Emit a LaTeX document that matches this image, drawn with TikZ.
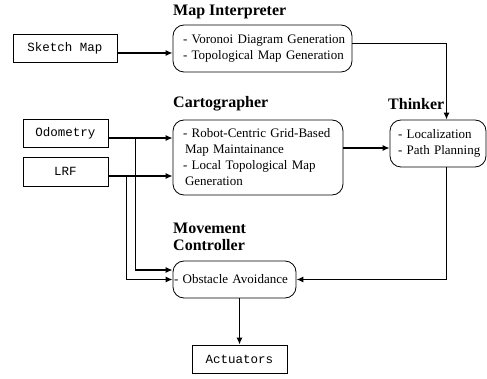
\documentclass[tikz,border=0pt]{standalone}
\usepackage{fontspec}
\setmainfont{Liberation Serif}
\setmonofont{Liberation Mono}
\usetikzlibrary{arrows.meta,calc}
\hyphenpenalty=10000
\exhyphenpenalty=10000
\begin{document}
\begin{tikzpicture}[x=1pt,y=-1pt,
  sqbox/.style={draw,line width=0.8pt,rectangle,inner sep=0pt,font=\fontsize{12.5}{15}\selectfont\ttfamily},
  rbox/.style={draw,line width=0.8pt,rectangle,rounded corners=11pt,inner ysep=0pt,inner xsep=4pt,align=left,font=\fontsize{13}{15.5}\selectfont},
  title/.style={anchor=west,inner sep=0pt,align=left,font=\fontsize{16}{17}\selectfont\bfseries},
  arr/.style={line width=1.3pt,-{Latex[length=7pt,width=6pt]}}]
\useasboundingbox (0,0) rectangle (487,379);
% input boxes
\node[sqbox,minimum width=104,minimum height=28] (sketch) at (65,48) {Sketch Map};
\node[sqbox,minimum width=85,minimum height=28] (odo) at (65.5,133) {Odometry};
\node[sqbox,minimum width=85,minimum height=29] (lrf) at (65.5,171.5) {LRF};
\node[sqbox,minimum width=95,minimum height=28] (act) at (239.5,359) {Actuators};
% module boxes
\node[rbox,minimum width=179,minimum height=47,text width=171] (mi) at (262.5,48.5)
  {\hspace*{6pt}- Voronoi Diagram Generation\\\hspace*{6pt}- Topological Map Generation};
\node[rbox,minimum width=170,minimum height=75,text width=162,font=\fontsize{13}{16}\selectfont] (cart) at (258,157.5)
  {\hspace*{6pt}- Robot-Centric Grid-Based\\\hspace*{8pt}Map Maintainance\\\hspace*{6pt}- Local Topological Map\\\hspace*{8pt}Generation};
\node[rbox,minimum width=96,minimum height=47,text width=88] (think) at (438,143.5)
  {\hspace*{4pt}- Localization\\\hspace*{4pt}- Path Planning};
\node[rbox,minimum width=123,minimum height=37,text width=121,inner xsep=1pt] (obst) at (234.5,279.5)
  {- Obstacle Avoidance};
% titles
\node[title] (tmi) at (173,12) {Map Interpreter};
\node[title] (tcart) at (173,104) {Cartographer};
\node[title] (tthink) at (388,104) {Thinker};
\node[title] (tmc) at (173,237) {Movement\\Controller};
% connectors
\draw[arr] ([yshift=-5pt]sketch.east) -- ([yshift=-5pt]sketch.east -| mi.west);
\draw[arr] ([yshift=5pt]mi.east) -| ([xshift=8.5pt]think.north);
\draw[arr] ([yshift=-5pt]odo.east) -- ([yshift=-5pt]odo.east -| cart.west);
\draw[arr] ([yshift=-4.5pt]lrf.east) -- ([yshift=-4.5pt]lrf.east -| cart.west);
\draw[arr] (cart.east |- 0,148) -- (think.west |- 0,148);
\draw[arr] ([yshift=-5pt]odo.east) -- ++(27,0) |- ([yshift=9.5pt]obst.west);
\draw[arr] ([yshift=-4.5pt]lrf.east) -- ++(18,0) |- (obst.west);
\draw[arr] ([xshift=8.5pt]think.south) |- (obst.east);
\draw[arr] (obst.south -| act.north) -- (act.north);
\end{tikzpicture}
\end{document}
